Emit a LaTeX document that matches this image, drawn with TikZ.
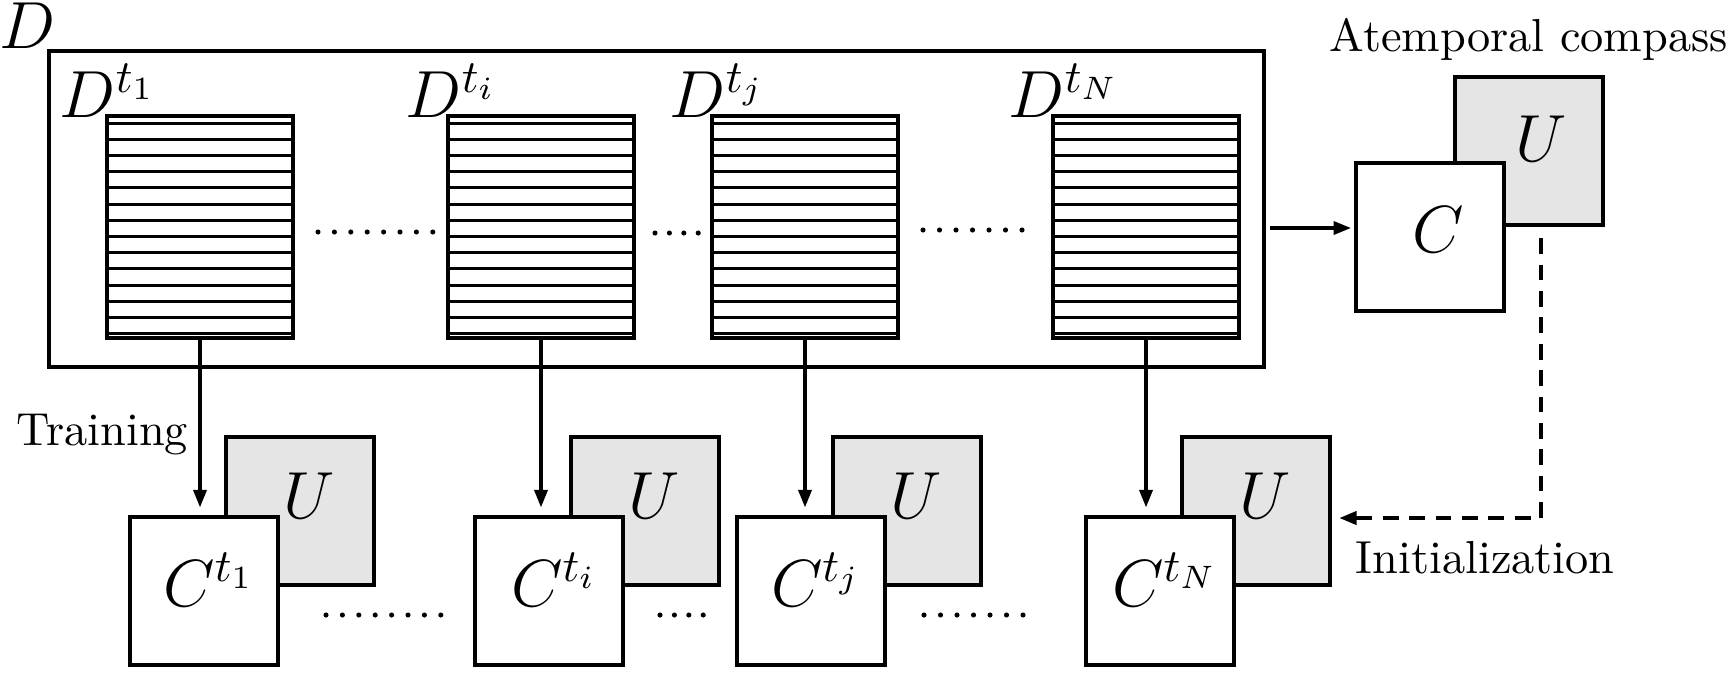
\documentclass[tikz,border=0pt]{standalone}
\usetikzlibrary{arrows.meta}
\begin{document}
\begin{tikzpicture}[x=0.216pt,y=-0.216pt,
  bigbox/.style={draw,line width=0.85pt,inner sep=0pt,minimum width={1215*0.216pt},minimum height={316*0.216pt}},
  sbox/.style={draw,line width=0.9pt,inner sep=0pt,minimum width={186*0.216pt},minimum height={222*0.216pt}},
  cbox/.style={draw,line width=0.9pt,fill=white,inner sep=0pt,minimum width={148*0.216pt},minimum height={148*0.216pt}},
  ubox/.style={cbox,fill=gray!20},
  stripe/.style={line width=0.65pt},
  mathlbl/.style={inner sep=0pt,font=\Large},
  txt/.style={inner sep=0pt},
  arr/.style={line width=0.75pt,-{Triangle[length=3.8pt,width=2.8pt]}},
  darr/.style={line width=0.9pt,dash pattern=on 3.4pt off 2.3pt,-{Triangle[length=3.8pt,width=2.8pt]}},
  dotc/.style={fill=black}]
\useasboundingbox (0,0) rectangle (1729,675);

% big dataset box
\node[bigbox] (D) at (656.5,209) {};
\node[mathlbl,anchor=base west] (DL) at (-1,48) {$D$};

% striped slices
\foreach \i/\lx/\lab/\lblx in {1/107/t_1/59, i/448/t_i/405, j/712/t_j/669, N/1053/t_N/1008}{
  \foreach \k in {0,...,13}
    \draw[stripe] ({\lx},{123+16.2*\k}) -- ({\lx+186},{123+16.2*\k});
  \node[sbox] (S\i) at ({\lx+93},227) {};
  \node[mathlbl,anchor=base west] (DL\i) at (\lblx,117) {$D^{\lab}$};
}

% bottom models
\foreach \i/\cl/\lab in {1/130/t_1, i/475/t_i, j/737/t_j, N/1086/t_N}{
  \node[ubox] (U\i) at ({\cl+170},511) {};
  \node[cbox] (C\i) at ({\cl+74},591) {};
  \node[mathlbl,anchor=base] (UL\i) at ({\cl+179},518) {$U$};
  \node[mathlbl,anchor=base] (CL\i) at ({\cl+79},606) {$C^{\lab}$};
  \draw[arr,shorten >=1.6pt] (S\i.south) -- (S\i.south |- C\i.north);
}

% atemporal compass
\node[ubox] (UC) at (1529,151) {};
\node[cbox] (CC) at (1430,237) {};
\node[mathlbl,anchor=base] (ULC) at (1541,161) {$U$};
\node[mathlbl,anchor=base] (CLC) at (1438,252) {$C$};
\node[txt,anchor=base west] (AT) at (1329,51) {Atemporal compass};

% connectors
\coordinate (hy) at (0,228);
\draw[arr,shorten <=0.9pt,shorten >=0.6pt] (D.east |- hy) -- (CC.west |- hy);
\coordinate (corner) at (1541,518);
\draw[darr,shorten <=2.4pt,shorten >=1.5pt] (UC.south -| corner) -- (corner) -- (UN.east |- corner);

% texts
\node[txt,anchor=base east] (TR) at (189,445) {Training};
\node[txt,anchor=base west] (IN) at (1355,573) {Initialization};

% dots, top row
\foreach \x in {0,...,7} \fill[dotc] ({318+16.4*\x},232) circle[radius=0.55pt];
\foreach \x in {0,...,3} \fill[dotc] ({655+14.4*\x},233) circle[radius=0.55pt];
\foreach \x in {0,...,6} \fill[dotc] ({923+16.5*\x},230) circle[radius=0.55pt];
% dots, bottom row
\foreach \x in {0,...,7} \fill[dotc] ({326+16.4*\x},615) circle[radius=0.55pt];
\foreach \x in {0,...,3} \fill[dotc] ({660+14.4*\x},615) circle[radius=0.55pt];
\foreach \x in {0,...,6} \fill[dotc] ({924+16.5*\x},615) circle[radius=0.55pt];
\end{tikzpicture}
\end{document}
